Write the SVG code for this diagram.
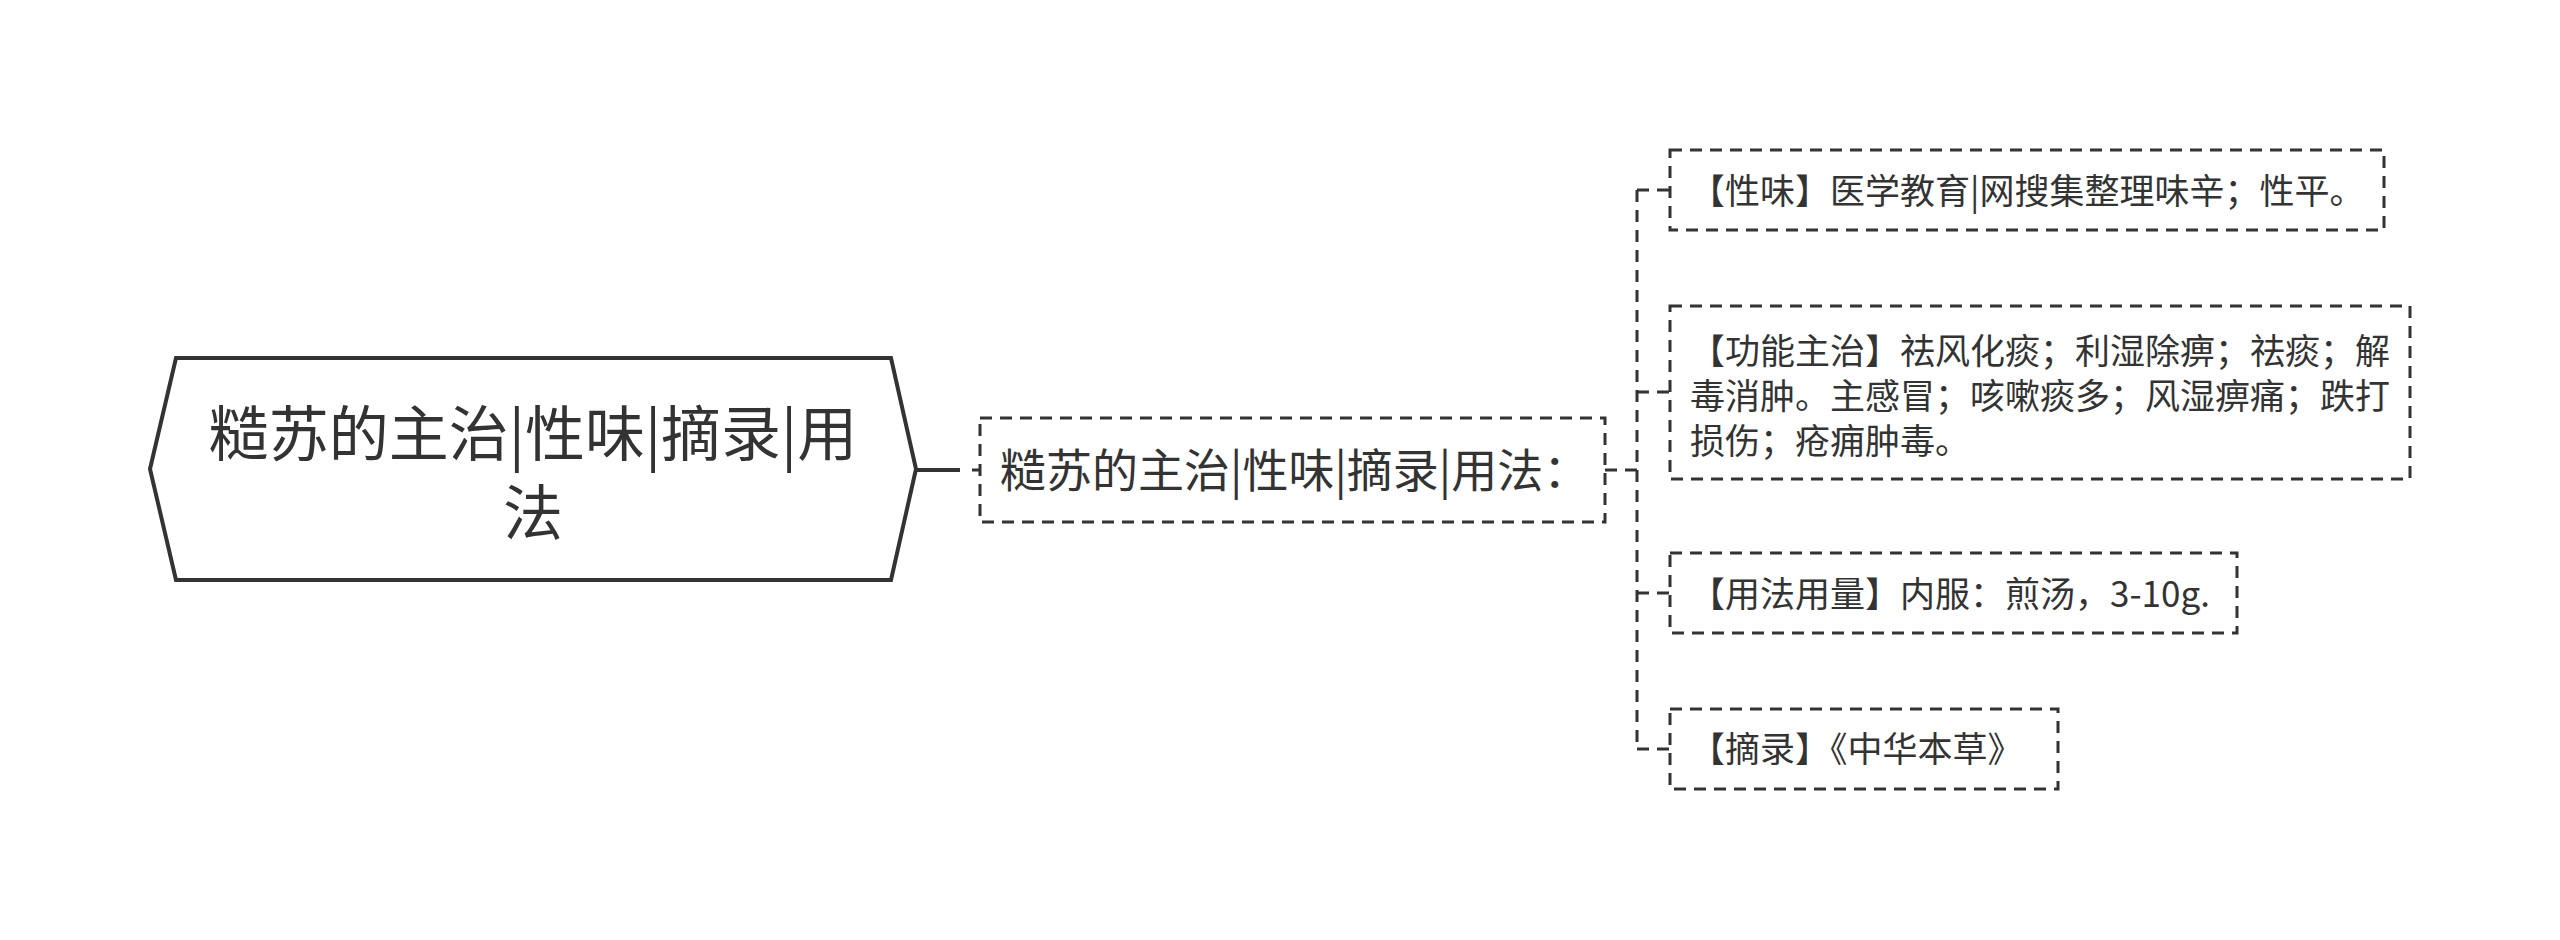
<svg xmlns="http://www.w3.org/2000/svg" width="2560" height="940" viewBox="0 0 2560 940">
<style>
  text { font-family: "Noto Sans CJK SC", "Microsoft YaHei", sans-serif; fill: #333333; }
  .root { font-size: 60px; text-anchor: middle; }
  .l1 { font-size: 46px; }
  .leaf { font-size: 35px; }
  .dbox { fill: #ffffff; stroke: #333333; stroke-width: 3; stroke-dasharray: 12 8; }
  .dline { fill: none; stroke: #333333; stroke-width: 3; stroke-dasharray: 12 8; }
  .sline { fill: none; stroke: #333333; stroke-width: 4; }
</style>
<rect width="2560" height="940" fill="#ffffff"/>
<g id="connectors">
  <line class="sline" x1="916" y1="470" x2="960" y2="470"/>
  <line class="dline" x1="972" y1="470" x2="980" y2="470" stroke-dasharray="none"/>
  <line class="dline" x1="1605" y1="470" x2="1637" y2="470"/>
  <line class="dline" x1="1637" y1="190" x2="1637" y2="749"/>
  <line class="dline" x1="1637" y1="190" x2="1670" y2="190"/>
  <line class="dline" x1="1637" y1="392" x2="1670" y2="392"/>
  <line class="dline" x1="1637" y1="593" x2="1670" y2="593"/>
  <line class="dline" x1="1637" y1="749" x2="1670" y2="749"/>
</g>
<g id="root">
  <polygon points="150,469 176,358 891,358 916,469 891,580 176,580" fill="#ffffff" stroke="#333333" stroke-width="4"/>
  <text class="root" x="533" y="456">糙苏的主治|性味|摘录|用</text>
  <text class="root" x="533" y="535">法</text>
</g>
<g id="n1">
  <rect class="dbox" x="980" y="418" width="625" height="104"/>
  <text class="l1" x="1000" y="487">糙苏的主治|性味|摘录|用法：</text>
</g>
<g id="leaf1">
  <rect class="dbox" x="1670" y="150" width="714" height="80"/>
  <text class="leaf" x="1690" y="204">【性味】医学教育|网搜集整理味辛；性平。</text>
</g>
<g id="leaf2">
  <rect class="dbox" x="1670" y="306" width="740" height="173"/>
  <text class="leaf" x="1690" y="364">【功能主治】祛风化痰；利湿除痹；祛痰；解</text>
  <text class="leaf" x="1690" y="409">毒消肿。主感冒；咳嗽痰多；风湿痹痛；跌打</text>
  <text class="leaf" x="1690" y="454">损伤；疮痈肿毒。</text>
</g>
<g id="leaf3">
  <rect class="dbox" x="1670" y="553" width="567" height="80"/>
  <text class="leaf" x="1690" y="607">【用法用量】内服：煎汤，3-10g.</text>
</g>
<g id="leaf4">
  <rect class="dbox" x="1670" y="709" width="388" height="80"/>
  <text class="leaf" x="1690" y="762">【摘录】《中华本草》</text>
</g>
</svg>
